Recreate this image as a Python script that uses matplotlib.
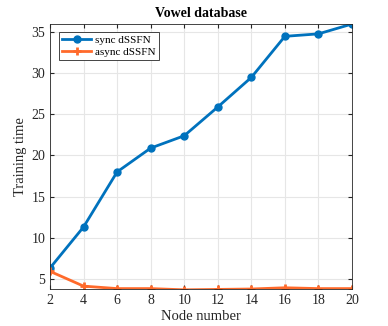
import matplotlib
matplotlib.use("Agg")
import matplotlib.pyplot as plt

nodes = [2, 4, 6, 8, 10, 12, 14, 16, 18, 20]
sync_time = [6.3, 11.3, 18.0, 20.9, 22.4, 25.9, 29.5, 34.5, 34.8, 36.0]
async_time = [5.9, 4.1, 3.8, 3.8, 3.65, 3.7, 3.75, 3.9, 3.8, 3.8]

plt.rcParams['font.family'] = ['Liberation Serif', 'DejaVu Serif']

fig = plt.figure(figsize=(3.88, 3.26), dpi=100)
ax = fig.add_axes([50 / 388, 1 - 289 / 326, 302 / 388, 265 / 326])

ax.plot(nodes, sync_time, color='#0072BD', lw=2, marker='o', ms=5, label='sync dSSFN')
ax.plot(nodes, async_time, color='#FF6A2B', lw=2, marker='+', ms=6, mew=2, label='async dSSFN')

ax.set_xlim(2, 20)
ax.set_ylim(3.75, 36)
ax.set_xticks(nodes)
ax.set_yticks([5, 10, 15, 20, 25, 30, 35])
ax.grid(True, color='#e6e6e6', lw=0.8)
ax.set_axisbelow(True)
ax.tick_params(direction='in', labelsize=10, length=3, top=True, right=True, colors='#262626')
for s in ax.spines.values():
    s.set_color('#262626')
    s.set_linewidth(0.6)

ax.set_xlabel('Node number', fontsize=10.5, color='#262626', labelpad=2)
ax.set_ylabel('Training time', fontsize=10.5, color='#262626', labelpad=3)
ax.set_title('Vowel database', fontsize=10, fontweight='bold', pad=5)

leg = ax.legend(loc='upper left', bbox_to_anchor=(0.03, 0.97), fontsize=8, fancybox=False,
                edgecolor='#262626', framealpha=1, handlelength=2.6, borderpad=0.3,
                labelspacing=0.2, handletextpad=0.3, borderaxespad=0)
leg.get_frame().set_linewidth(0.6)

fig.savefig('out.png', dpi=100)
